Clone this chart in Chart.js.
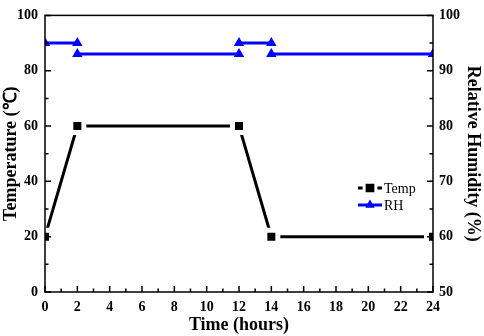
<!DOCTYPE html>
<html>
<head>
<meta charset="utf-8">
<script src="https://cdn.jsdelivr.net/npm/chart.js@4.4.1/dist/chart.umd.min.js"></script>
<style>
  html, body { margin: 0; padding: 0; background: #fff; }
  #wrap { width: 484px; height: 336px; }
</style>
</head>
<body>
<div id="wrap"><canvas id="chart" width="484" height="336"></canvas></div>
<script>
// data
const tempHours = [0, 2, 12, 14, 24];
const tempValues = [20, 60, 60, 20, 20];
// RH steps, null = break in the line
const rhHours = [0, 2, 2, 2, 12, 12, 12, 14, 14, 14, 24];
const rhValues = [95, 95, null, 93, 93, null, 95, 95, null, 93, 93];

const xTicks = [0, 2, 4, 6, 8, 10, 12, 14, 16, 18, 20, 22, 24];

const serif = "'Liberation Serif', 'Times New Roman', serif";

function toPoints(xs, ys) {
    return xs.map((x, i) => ({ x: x, y: ys[i] }));
}

// inward ticks (major + minor), box frame and the legend inside the plot
const framePlugin = {
    id: 'frame',
    afterDraw(chart) {
        const ctx = chart.ctx;
        const a = chart.chartArea;
        const sx = chart.scales.x, sy = chart.scales.y, sy2 = chart.scales.y2;
        ctx.save();
        ctx.strokeStyle = '#000';
        ctx.lineWidth = 1.5;
        ctx.beginPath();
        for (let v = 0; v <= 24; v += 1) {
            const px = sx.getPixelForValue(v);
            const len = v % 2 === 0 ? 6 : 3.5;
            ctx.moveTo(px, a.bottom);
            ctx.lineTo(px, a.bottom - len);
        }
        for (let v = 0; v <= 100; v += 10) {
            const py = sy.getPixelForValue(v);
            const len = v % 20 === 0 ? 6 : 3.5;
            ctx.moveTo(a.left, py);
            ctx.lineTo(a.left + len, py);
        }
        for (let v = 50; v <= 100; v += 5) {
            const py = sy2.getPixelForValue(v);
            const len = v % 10 === 0 ? 6 : 3.5;
            ctx.moveTo(a.right, py);
            ctx.lineTo(a.right - len, py);
        }
        ctx.stroke();
        ctx.strokeRect(a.left, a.top, a.right - a.left, a.bottom - a.top);

        // legend
        let ly = 188;
        chart.data.datasets.forEach((ds) => {
            const lx = 358;
            ctx.lineWidth = 3;
            ctx.strokeStyle = ds.borderColor;
            ctx.beginPath();
            ctx.moveTo(lx, ly);
            ctx.lineTo(lx + 24, ly);
            ctx.stroke();
            ctx.fillStyle = ds.pointBackgroundColor;
            ctx.strokeStyle = ds.pointBorderColor;
            Chart.helpers.drawPoint(ctx, {
                pointStyle: ds.pointStyle,
                radius: ds.pointRadius * 0.9,
                borderWidth: ds.pointBorderWidth * 0.6
            }, lx + 12, ly);
            ctx.fillStyle = '#000';
            ctx.font = '14px ' + serif;
            ctx.textBaseline = 'middle';
            ctx.textAlign = 'left';
            ctx.fillText(ds.label, lx + 26, ly + 1);
            ly += 17;
        });
        ctx.restore();
    }
};

new Chart(document.getElementById('chart'), {
    type: 'line',
    data: {
        datasets: [{
            label: 'Temp',
            data: toPoints(tempHours, tempValues),
            yAxisID: 'y',
            borderColor: '#000',
            borderWidth: 3,
            pointStyle: 'rect',
            pointRadius: 9.2,
            pointBackgroundColor: '#000',
            pointBorderColor: '#fff',
            pointBorderWidth: 5,
            clip: 0
        }, {
            label: 'RH',
            data: toPoints(rhHours, rhValues),
            yAxisID: 'y2',
            borderColor: '#0000ff',
            borderWidth: 3,
            pointStyle: 'triangle',
            pointRadius: 6,
            pointBackgroundColor: '#0000ff',
            pointBorderColor: '#0000ff',
            pointBorderWidth: 0,
            spanGaps: false,
            clip: 0
        }]
    },
    options: {
        responsive: false,
        animation: false,
        layout: { padding: { top: 7, left: 0, right: 0, bottom: 0 } },
        plugins: {
            legend: { display: false },
            tooltip: { enabled: false }
        },
        scales: {
            x: {
                type: 'linear',
                min: 0,
                max: 24,
                afterBuildTicks: (s) => { s.ticks = xTicks.map(v => ({ value: v })); },
                afterFit: (s) => { s.height = 44; },
                grid: { display: false, drawTicks: false },
                border: { display: false },
                ticks: {
                    color: '#000',
                    padding: 7,
                    maxRotation: 0,
                    font: { family: serif, size: 14, weight: 'bold' }
                },
                title: {
                    display: true,
                    text: 'Time (hours)',
                    color: '#000',
                    padding: { top: 0, bottom: 0 },
                    font: { family: serif, size: 18, weight: 'bold' }
                }
            },
            y: {
                position: 'left',
                min: 0,
                max: 100,
                afterFit: (s) => { s.width = 45; },
                grid: { display: false, drawTicks: false },
                border: { display: false },
                ticks: {
                    stepSize: 20,
                    color: '#000',
                    padding: 7,
                    font: { family: serif, size: 14, weight: 'bold' }
                },
                title: {
                    display: true,
                    text: 'Temperature (℃)',
                    color: '#000',
                    padding: { top: 1, bottom: 0 },
                    font: { family: serif, size: 18, weight: 'bold' }
                }
            },
            y2: {
                position: 'right',
                min: 50,
                max: 100,
                afterFit: (s) => { s.width = 51; },
                grid: { display: false, drawTicks: false },
                border: { display: false },
                ticks: {
                    stepSize: 10,
                    color: '#000',
                    padding: 6,
                    font: { family: serif, size: 14, weight: 'bold' }
                },
                title: {
                    display: true,
                    text: 'Relative Humidity (%)',
                    color: '#000',
                    padding: { top: 1, bottom: 0 },
                    font: { family: serif, size: 18, weight: 'bold' }
                }
            }
        }
    },
    plugins: [framePlugin]
});
</script>
</body>
</html>
